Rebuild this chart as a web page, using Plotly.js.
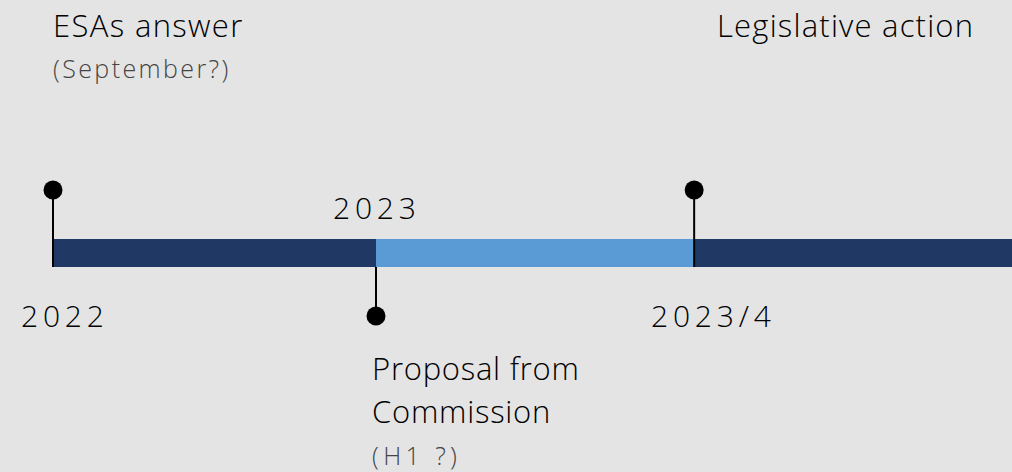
<!DOCTYPE html>
<html>
<head>
<meta charset="utf-8">
<script src="https://cdn.plot.ly/plotly-3.0.1.min.js"></script>
<style>
html,body{margin:0;padding:0;background:#e4e4e4;}
#chart{width:1012px;height:472px;}
</style>
</head>
<body>
<div id="chart"></div>
<script>
// ---- data ----
const milestones = [0, 1, 1.985];             // timeline positions (phase index)
const years = ['2022', '2023', '2023/4'];
const events = [['ESAs answer'], ['Proposal from', 'Commission'], ['Legislative action']];
const notes = ['(September?)', '(H1 ?)', ''];
const markerSide = [1, -1, 1];                // 1 = above the bar, -1 = below
const phaseStart = [0, 1, 1.985];
const phaseEnd = [1, 1.985, 3];
const phaseColors = ['#203864', '#5b9bd5', '#203864'];

// ---- layout helpers ----
const W = 1012, H = 472;
const barHalf = 0.222;
const FONT = 'Open Sans, Noto Sans, sans-serif';

const traces = [];
traces.push({
  type: 'bar', orientation: 'h',
  y: phaseStart.map(() => 0),
  base: phaseStart,
  x: phaseStart.map((s, i) => phaseEnd[i] - s),
  width: phaseStart.map(() => barHalf * 2),
  marker: {color: phaseColors, line: {width: 0}},
  hoverinfo: 'skip', showlegend: false
});
const sx = [], sy = [];
milestones.forEach((m, i) => { sx.push(m, m, null); sy.push(-barHalf, markerSide[i], null); });
traces.push({type: 'scatter', mode: 'lines', x: sx, y: sy,
  line: {color: '#000', width: 2}, hoverinfo: 'skip', showlegend: false});
traces.push({type: 'scatter', mode: 'markers', x: milestones, y: markerSide,
  marker: {color: '#000', size: 19}, hoverinfo: 'skip', showlegend: false, cliponaxis: false});

const ann = [];
function py(p) { return 1 - p / H; }
function spaced(t, ls) { return '<span style="letter-spacing:' + ls + 'px">' + t + '</span>'; }
const yearPos = [{dx: 12, y: 315}, {dx: 1, y: 207}, {dx: 19, y: 315}];
years.forEach((t, i) => {
  ann.push({xref: 'x', yref: 'paper', x: milestones[i], y: py(yearPos[i].y), xshift: yearPos[i].dx,
    xanchor: 'center', yanchor: 'middle', showarrow: false,
    text: spaced(t, 4.8),
    font: {family: FONT, size: 30, weight: 300, color: '#000'}});
});
const evPos = [{dx: -2, ys: [25], ny: 68, ls: 1.35, nls: 2.4}, {dx: -6, ys: [368, 411], ny: 455, ls: 0.75, nls: 4.4},
               {dx: 21, ys: [25], ny: null, ls: 1.2, nls: 0}];
events.forEach((lines, i) => {
  lines.forEach((t, j) => {
    ann.push({xref: 'x', yref: 'paper', x: milestones[i], y: py(evPos[i].ys[j]), xshift: evPos[i].dx,
      xanchor: 'left', yanchor: 'middle', showarrow: false, text: spaced(t, evPos[i].ls),
      font: {family: FONT, size: 31, weight: 300, color: '#000'}});
  });
  if (notes[i]) {
    ann.push({xref: 'x', yref: 'paper', x: milestones[i], y: py(evPos[i].ny), xshift: evPos[i].dx,
      xanchor: 'left', yanchor: 'middle', showarrow: false,
      text: spaced(notes[i], evPos[i].nls),
      font: {family: FONT, size: 25, weight: 300, color: '#444'}});
  }
});

const layout = {
  width: W, height: H,
  margin: {l: 0, r: 0, t: 0, b: 0},
  paper_bgcolor: '#e4e4e4', plot_bgcolor: '#e4e4e4',
  barmode: 'overlay',
  xaxis: {range: [-53 / 323, (W - 53) / 323], visible: false, fixedrange: true},
  yaxis: {range: [-3.476, 4.016], visible: false, fixedrange: true, type: 'linear'},
  annotations: ann,
  showlegend: false
};
Plotly.newPlot('chart', traces, layout, {staticPlot: true, displayModeBar: false});
</script>
</body>
</html>
